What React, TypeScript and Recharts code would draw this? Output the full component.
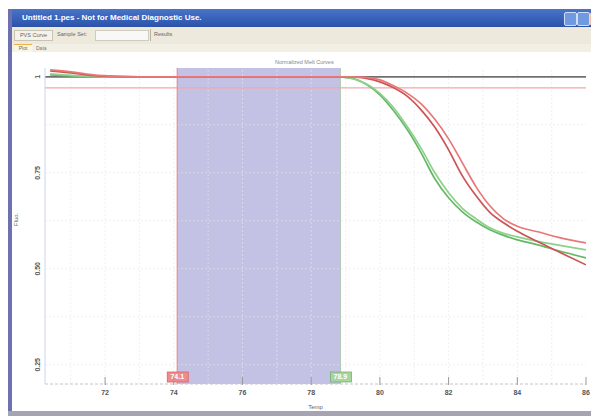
import React from 'react';
import { LineChart, Line, XAxis, YAxis, ReferenceArea, ReferenceLine } from 'recharts';

// Temperatures (x) at which the curves are sampled
const temps = [70.4, 71, 71.8, 73, 75, 77, 78.8, 79.2, 79.6, 80, 80.4, 80.8, 81.2, 81.6, 82, 82.4, 82.8, 83.2, 83.6, 84, 84.6, 85.2, 86];

// Normalized fluorescence curves
const redA = [1.0182, 1.013, 1.0039, 1, 1, 1, 1, 1, 0.9984, 0.9922, 0.9766, 0.957, 0.9297, 0.8893, 0.8385, 0.776, 0.7135, 0.6641, 0.6302, 0.6107, 0.5964, 0.582, 0.5677];
const redB = [1.0156, 1.0104, 1.0026, 1, 1, 1, 1, 1, 0.996, 0.987, 0.9714, 0.9492, 0.9141, 0.8685, 0.8099, 0.7422, 0.6901, 0.6471, 0.6198, 0.5977, 0.5703, 0.5443, 0.5104];
const greenA = [1.0078, 1.0039, 1.0005, 1, 1, 1, 1, 0.9953, 0.9818, 0.957, 0.9193, 0.8698, 0.8138, 0.75, 0.6979, 0.6576, 0.6302, 0.6068, 0.5924, 0.5833, 0.5716, 0.5617, 0.5495];
const greenB = [1.0052, 1.0026, 1.0, 1, 1, 1, 1, 0.996, 0.9805, 0.9531, 0.9115, 0.862, 0.8021, 0.7344, 0.6849, 0.6484, 0.6224, 0.6016, 0.5872, 0.5755, 0.5625, 0.5469, 0.5286];

// Axes
const xTicks = [72, 74, 76, 78, 80, 82, 84, 86];
const yTicks = [0.25, 0.5, 0.75, 1];
const yTickLabels = ['0.25', '0.50', '0.75', '1'];
const xGrid = [71, 72, 73, 74, 75, 76, 77, 78, 79, 80, 81, 82, 83, 84, 85];
const yGrid = [0.25, 0.375, 0.5, 0.625, 0.75, 0.875];

// Selection region and threshold lines
const selStart = 74.1;
const selEnd = 78.85;
const selStartLabel = '74.1';
const selEndLabel = '78.9';
const topLine = 1;
const thresholdLine = 0.9714;

const data = temps.map((t, i) => ({ t, redA: redA[i], redB: redB[i], greenA: greenA[i], greenB: greenB[i] }));

const FONT = '"Liberation Sans", "DejaVu Sans", sans-serif';

const XTick = (props: any) => {
  const { x, y, payload } = props;
  return (
    <g>
      <line x1={x} x2={x} y1={y - 7} y2={y + 1} stroke="#999" strokeWidth={1} />
      <text x={x} y={y + 9} textAnchor="middle" dominantBaseline="middle" fontSize={7} fill="#555" fontFamily={FONT} fontWeight="bold">
        {payload.value}
      </text>
    </g>
  );
};

const YTick = (props: any) => {
  const { x, y, payload } = props;
  const idx = yTicks.indexOf(payload.value);
  const label = idx >= 0 ? yTickLabels[idx] : String(payload.value);
  const tx = x - 7;
  return (
    <text x={tx} y={y} transform={`rotate(-90 ${tx} ${y})`} textAnchor="middle" dominantBaseline="middle" fontSize={7} fill="#555" fontFamily={FONT} fontWeight="bold">
      {label}
    </text>
  );
};

const markerLabel = (text: string, fill: string, stroke: string) => (props: any) => {
  const vb = props.viewBox || {};
  const x = vb.x ?? 0;
  const bottom = (vb.y ?? 0) + (vb.height ?? 0);
  return (
    <g>
      <rect x={x - 10} y={bottom - 12} width={21} height={10} fill={fill} stroke={stroke} strokeWidth={0.8} />
      <text x={x} y={bottom - 7} textAnchor="middle" dominantBaseline="middle" fontSize={7} fill="#fff" fontFamily={FONT} fontWeight="bold">
        {text}
      </text>
    </g>
  );
};

export default function App() {
  return (
    <div style={{ position: 'relative', width: 591, height: 408, background: '#fff', fontFamily: FONT, overflow: 'hidden' }}>
      {/* title bar */}
      <div style={{ position: 'absolute', left: 0, top: 1, width: 591, height: 18, background: 'linear-gradient(#4a74c8, #3660b8 60%, #2c52a6)' }}>
        <span style={{ position: 'absolute', left: 14, top: 4, fontSize: 8, fontWeight: 'bold', color: '#fff', whiteSpace: 'nowrap' }}>
          Untitled 1.pes - Not for Medical Diagnostic Use.
        </span>
        <div style={{ position: 'absolute', left: 556, top: 3, width: 11, height: 12, background: '#6f9ae0', border: '1px solid #d0defa', borderRadius: 2 }} />
        <div style={{ position: 'absolute', left: 569, top: 3, width: 11, height: 12, background: '#6f9ae0', border: '1px solid #d0defa', borderRadius: 2 }} />
        <div style={{ position: 'absolute', left: 582, top: 3, width: 11, height: 12, background: '#e0653c', border: '1px solid #f4c0a8', borderRadius: 2 }} />
      </div>
      {/* toolbar */}
      <div style={{ position: 'absolute', left: 0, top: 19, width: 591, height: 17, background: '#ede9dc', borderBottom: '1px solid #e0dccd' }}>
        <span style={{ position: 'absolute', left: 6, top: 3, width: 37, height: 9, border: '1px solid #c8c4b4', background: '#f4f2ea', fontSize: 5.5, color: '#666', lineHeight: '9px', textAlign: 'center' }}>PVS Curve</span>
        <span style={{ position: 'absolute', left: 49, top: 4, fontSize: 5.5, color: '#666' }}>Sample Set:</span>
        <span style={{ position: 'absolute', left: 87, top: 3, width: 52, height: 9, border: '1px solid #d0ccc0', background: '#f8f8f6' }} />
        <span style={{ position: 'absolute', left: 142, top: 2, width: 1, height: 12, background: '#b8b4a8' }} />
        <span style={{ position: 'absolute', left: 146, top: 4, fontSize: 5.5, color: '#666' }}>Results</span>
      </div>
      {/* tabs */}
      <div style={{ position: 'absolute', left: 0, top: 36, width: 591, height: 8, background: '#f2efe4' }}>
        <span style={{ position: 'absolute', left: 6, top: 0, width: 18, height: 7, borderTop: '1px solid #f0b040', background: '#fbf6e4', fontSize: 5, color: '#666', lineHeight: '7px', textAlign: 'center' }}>Plot</span>
        <span style={{ position: 'absolute', left: 28, top: 0, fontSize: 5, color: '#777', lineHeight: '8px' }}>Data</span>
      </div>
      {/* left and bottom window borders */}
      <div style={{ position: 'absolute', left: 0, top: 1, width: 4, height: 403, background: '#6e70b0' }} />
      <div style={{ position: 'absolute', left: 0, top: 403, width: 591, height: 5, background: '#a4a4b2' }} />
      <div style={{ position: 'absolute', left: 589, top: 19, width: 2, height: 385, background: '#dcdce4' }} />
      {/* chart caption */}
      <span style={{ position: 'absolute', left: 267, top: 51, fontSize: 5.5, color: '#888', whiteSpace: 'nowrap' }}>Normalized Melt Curves</span>
      <div style={{ position: 'absolute', left: 4, top: 45 }}>
        <LineChart width={585} height={358} data={data} margin={{ top: 15, right: 11, left: 0, bottom: 0 }}>
          <XAxis
            dataKey="t"
            type="number"
            domain={[70.25, 86]}
            ticks={xTicks}
            allowDataOverflow
            tickSize={0}
            tickMargin={0}
            tick={XTick}
            height={27}
            axisLine={{ stroke: '#c4c4cc', strokeDasharray: '3 2' }}
            tickLine={false}
            label={{ value: 'Temp', position: 'insideBottom', offset: 2, fontSize: 6, fill: '#666' }}
          />
          <YAxis
            type="number"
            domain={[0.2, 1.023]}
            ticks={yTicks}
            allowDataOverflow
            width={33}
            tickSize={0}
            tickMargin={0}
            tick={YTick}
            axisLine={{ stroke: '#d0d2ec' }}
            tickLine={false}
            label={{ value: 'Fluo.', angle: -90, position: 'insideLeft', offset: 4, fontSize: 6, fill: '#666' }}
          />
          {xGrid.map((v) => (
            <ReferenceLine key={'gx' + v} x={v} stroke="#e6e6ee" strokeOpacity={0.6} strokeDasharray="2 2" />
          ))}
          {yGrid.map((v) => (
            <ReferenceLine key={'gy' + v} y={v} stroke="#e6e6ee" strokeOpacity={0.6} strokeDasharray="2 2" />
          ))}
          <ReferenceArea x1={selStart} x2={selEnd} fill="#c4c2e4" fillOpacity={1} stroke="none" ifOverflow="hidden" />
          <ReferenceLine y={thresholdLine} stroke="#f2a8a8" strokeWidth={1.2} />
          <ReferenceLine y={topLine} stroke="#707070" strokeWidth={1.6} />
          <ReferenceLine x={selStart} stroke="#f08a8a" strokeWidth={1.2} label={markerLabel(selStartLabel, '#ee8c8c', '#e06060')} />
          <ReferenceLine x={selEnd} stroke="#b0c8b0" strokeWidth={1} label={markerLabel(selEndLabel, '#a8d4a0', '#78b070')} />
          <Line type="monotone" dataKey="greenB" stroke="#66b866" strokeWidth={1.7} dot={false} isAnimationActive={false} />
          <Line type="monotone" dataKey="greenA" stroke="#8cd08c" strokeWidth={1.7} dot={false} isAnimationActive={false} />
          <Line type="monotone" dataKey="redB" stroke="#cc5454" strokeWidth={1.7} dot={false} isAnimationActive={false} />
          <Line type="monotone" dataKey="redA" stroke="#e87878" strokeWidth={1.7} dot={false} isAnimationActive={false} />
        </LineChart>
      </div>
    </div>
  );
}
